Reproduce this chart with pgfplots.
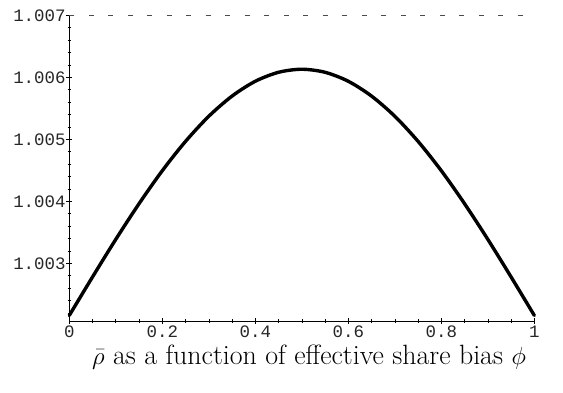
\documentclass[border=0pt]{standalone}
\usepackage{pgfplots}
\pgfplotsset{compat=1.18}
\usepackage{fontspec}
\newfontfamily\courier{Liberation Mono}
\begin{document}
\begin{tikzpicture}
\begin{axis}[name=ax, scale only axis, width=465bp, height=305.7bp,
  xmin=0, xmax=1, ymin=2.07, ymax=7,
  axis x line=bottom, axis y line=left,
  axis line style={-, line width=0.8bp, black},
  clip=false,
  xtick={0,0.2,0.4,0.6,0.8,1},
  xticklabels={0,0.2,0.4,0.6,0.8,1},
  minor xtick={0.05,0.1,0.15,0.25,0.3,0.35,0.45,0.5,0.55,0.65,0.7,0.75,0.85,0.9,0.95},
  ytick={3,4,5,6,7},
  yticklabels={1.003,1.004,1.005,1.006,1.007},
  minor ytick={2.2,2.4,2.6,2.8,3.2,3.4,3.6,3.8,4.2,4.4,4.6,4.8,5.2,5.4,5.6,5.8,6.2,6.4,6.6,6.8},
  tick align=center, major tick length=6bp, minor tick length=3.5bp,
  tick style={line width=0.6bp, black},
  ticklabel style={font=\courier\fontsize{17.5}{17.5}\selectfont, text=black!85},
  xticklabel style={inner sep=1pt, yshift=-1bp},
  yticklabel style={inner sep=0.5pt},
]
\addplot[gray!60!black, line width=0.8bp, dash pattern=on 5bp off 14.5bp] coordinates {(0,7) (1,7)};
\addplot[black, line width=3.4bp, line cap=round, smooth] coordinates {
(0,2.16) (0.05,2.781) (0.1,3.387) (0.15,3.962) (0.2,4.494) (0.25,4.967)
(0.3,5.372) (0.35,5.697) (0.4,5.936) (0.45,6.081) (0.5,6.130)
(0.55,6.081) (0.6,5.936) (0.65,5.697) (0.7,5.372) (0.75,4.967)
(0.8,4.494) (0.85,3.962) (0.9,3.387) (0.95,2.781) (1,2.16)};
\end{axis}
\node[anchor=base, xshift=239.7bp, yshift=-43bp, font=\fontsize{28}{32}\selectfont] at (ax.south west) {$\bar\rho$ as a function of effective share bias $\phi$};
\pgfresetboundingbox
\path[use as bounding box] ([shift={(-69.3bp,-72bp)}]ax.south west) rectangle ([shift={(28.7bp,15.3bp)}]ax.north east);
\end{tikzpicture}
\end{document}
